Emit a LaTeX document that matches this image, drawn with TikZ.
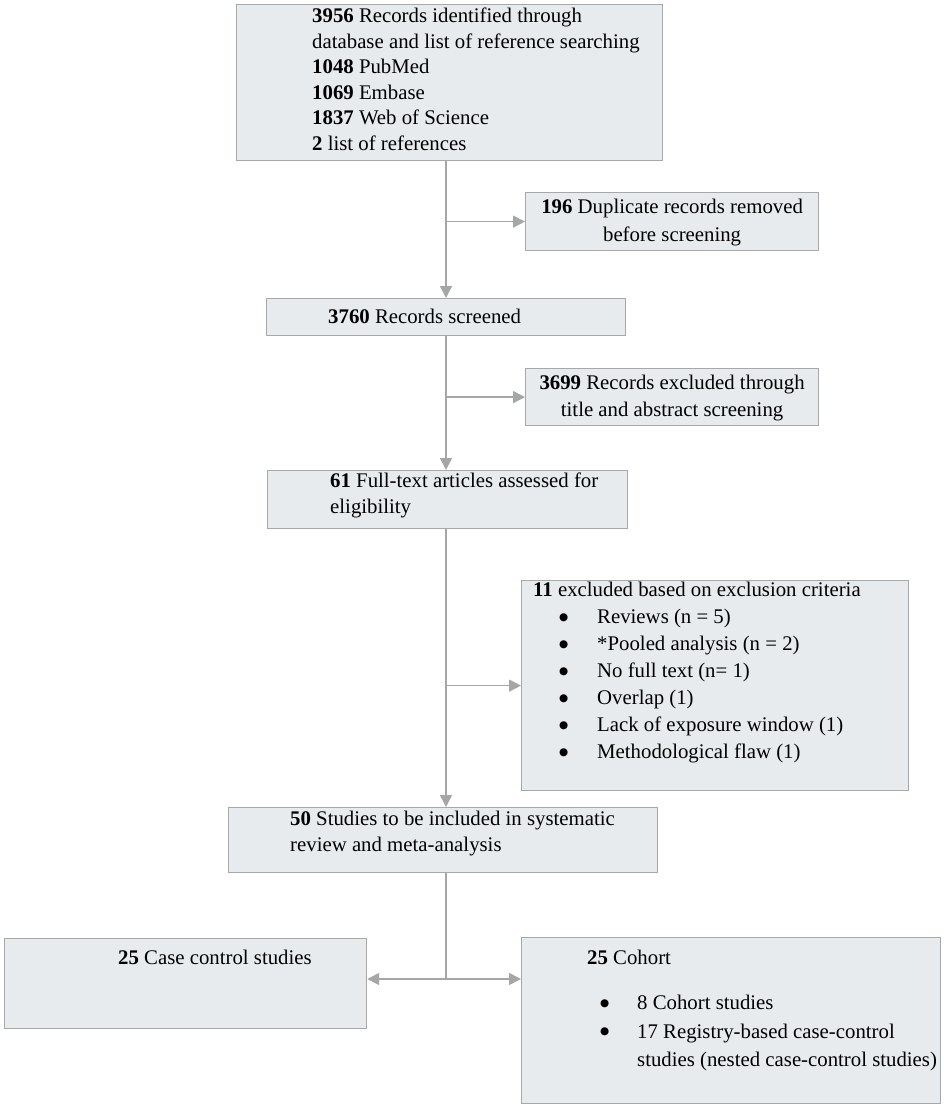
\documentclass[tikz,border=0pt]{standalone}
\usepackage{fontspec}
\setmainfont{Liberation Serif}
\newfontfamily\symfont{DejaVu Sans}
\usetikzlibrary{arrows.meta,calc}
\definecolor{boxfill}{HTML}{E7EBEE}
\definecolor{boxline}{HTML}{A8A8A8}
\definecolor{arrcol}{HTML}{A6A6A6}
\newcommand{\bigbul}{{\symfont\fontsize{10.5}{10.5}\selectfont\raisebox{3.5pt}{●}}}
\begin{document}
\begin{tikzpicture}[x=1pt,y=-1pt,
  box/.style={draw=boxline,fill=boxfill,line width=1.2pt,rectangle,anchor=north west,inner sep=0pt},
  txt/.style={inner sep=0pt,font=\fontsize{20.8}{25.5}\selectfont,align=left},
  arr/.style={draw=arrcol,line width=1.5pt,-{Triangle[width=12pt,length=12pt]}},
  ln/.style={draw=arrcol,line width=1.5pt}]
\useasboundingbox (0,0) rectangle (944,1108);
% boxes
\node[box,minimum width=426pt,minimum height=156pt] (b1) at (236,4) {};
\node[box,minimum width=293pt,minimum height=58pt] (b2) at (525,192) {};
\node[box,minimum width=359pt,minimum height=37pt] (b3) at (266,298) {};
\node[box,minimum width=293pt,minimum height=57pt] (b4) at (525,368) {};
\node[box,minimum width=360pt,minimum height=58pt] (b5) at (267,470) {};
\node[box,minimum width=387pt,minimum height=210pt] (b6) at (521,580) {};
\node[box,minimum width=429pt,minimum height=65pt] (b7) at (228,807) {};
\node[box,minimum width=362pt,minimum height=90pt] (b8) at (4,938) {};
\node[box,minimum width=419pt,minimum height=166pt] (b9) at (521,937) {};
% texts
\node[txt,anchor=north west] (t1) at (312,8) {\textbf{3956} Records identified through\\database and list of reference searching\\\textbf{1048} PubMed\\\textbf{1069} Embase\\\textbf{1837} Web of Science\\\textbf{2} list of references};
\node[txt,align=center,font=\fontsize{20.8}{27.5}\selectfont] (t2) at ([yshift=-1pt]b2.center) {\textbf{196} Duplicate records removed\\before screening};
\node[txt,anchor=west] (t3) at (328,316.5) {\textbf{3760} Records screened};
\node[txt,align=center,font=\fontsize{20.8}{27.5}\selectfont] (t4) at ([yshift=-1pt]b4.center) {\textbf{3699} Records excluded through\\title and abstract screening};
\node[txt,anchor=north west] (t5) at (330,473) {\textbf{61} Full-text articles assessed for\\eligibility};
\node[txt,anchor=north west,font=\fontsize{20.8}{27}\selectfont] (t6) at (533,582) {\textbf{11} excluded based on exclusion criteria\\
\hspace*{26pt}\makebox[38pt][l]{\bigbul}Reviews (n = 5)\\
\hspace*{26pt}\makebox[38pt][l]{\bigbul}*Pooled analysis (n = 2)\\
\hspace*{26pt}\makebox[38pt][l]{\bigbul}No full text (n= 1)\\
\hspace*{26pt}\makebox[38pt][l]{\bigbul}Overlap (1)\\
\hspace*{26pt}\makebox[38pt][l]{\bigbul}Lack of exposure window (1)\\
\hspace*{26pt}\makebox[38pt][l]{\bigbul}Methodological flaw (1)};
\node[txt,anchor=north west] (t7) at (290,811) {\textbf{50} Studies to be included in systematic\\review and meta-analysis};
\node[txt,anchor=north west] (t8) at (118,950) {\textbf{25} Case control studies};
\node[txt,anchor=north west] (t9) at (587,950) {\textbf{25} Cohort};
\node[txt,anchor=north west,font=\fontsize{20.8}{28.5}\selectfont] (t10) at (600,995) {\makebox[37pt][l]{\bigbul}8 Cohort studies\\
\makebox[37pt][l]{\bigbul}17 Registry-based case-control\\
\hspace*{37pt}studies (nested case-control studies)};
% connectors
\coordinate (spine) at (446,0);
\coordinate (split) at (446,979);
\draw[arr] (b1.south -| spine) -- (b3.north -| spine);
\draw[arr] (spine |- b2.west) -- (b2.west);
\draw[arr] (b3.south -| spine) -- (b5.north -| spine);
\draw[arr] (spine |- b4.west) -- (b4.west);
\draw[arr] (b5.south -| spine) -- (b7.north -| spine);
\draw[arr] (spine |- b6.west) -- (b6.west);
\draw[ln] (b7.south -| spine) -- (split);
\draw[arr] (split) -- (split -| b8.east);
\draw[arr] (split) -- (split -| b9.west);
\end{tikzpicture}
\end{document}
